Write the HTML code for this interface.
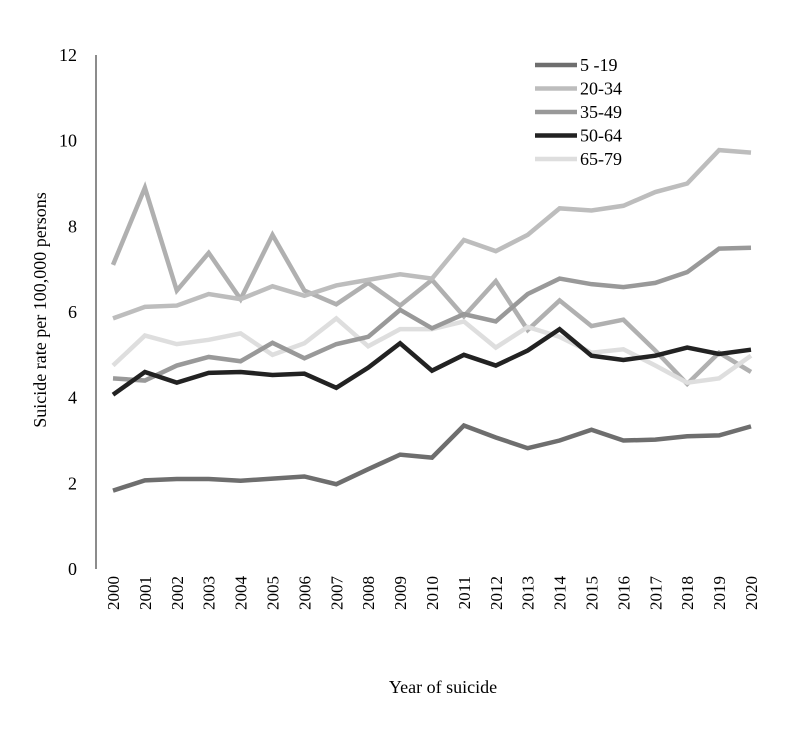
<!DOCTYPE html>
<html><head><meta charset="utf-8"><style>
body{margin:0;background:#fff}
svg text{font-family:"Liberation Serif",serif;fill:#000}
</style></head><body>
<svg id="chart" width="800" height="728" xmlns="http://www.w3.org/2000/svg">
<line x1="96" y1="55" x2="96" y2="569" stroke="#666" stroke-width="1.5"/>
<g id="yticks"></g><g id="xticks"></g><g id="lines"></g>
<text transform="translate(46,310) rotate(-90)" text-anchor="middle" font-size="18">Suicide rate per 100,000 persons</text>
<text x="443" y="693" text-anchor="middle" font-size="18">Year of suicide</text>
<g id="legend"></g>
</svg>
<script>
const years=[2000,2001,2002,2003,2004,2005,2006,2007,2008,2009,2010,2011,2012,2013,2014,2015,2016,2017,2018,2019,2020];
const yTicks=[0,2,4,6,8,10,12];
const s5_19=[1.83,2.07,2.1,2.1,2.06,2.11,2.16,1.98,2.33,2.67,2.6,3.35,3.07,2.82,3.0,3.25,3.0,3.02,3.1,3.12,3.33];
const s20_34=[5.85,6.12,6.15,6.42,6.3,6.6,6.38,6.62,6.75,6.88,6.78,7.68,7.42,7.8,8.42,8.37,8.48,8.8,9.0,9.78,9.72];
const s35_49=[4.45,4.4,4.75,4.95,4.85,5.28,4.92,5.25,5.42,6.05,5.62,5.95,5.78,6.42,6.78,6.65,6.58,6.68,6.93,7.48,7.5];
const s50_64=[4.07,4.6,4.35,4.58,4.6,4.53,4.56,4.23,4.7,5.27,4.63,5.0,4.75,5.1,5.6,4.98,4.88,4.98,5.17,5.02,5.12];
const s65_79=[4.75,5.45,5.25,5.35,5.5,5.0,5.27,5.85,5.2,5.6,5.6,5.78,5.17,5.65,5.42,5.05,5.13,4.75,4.35,4.45,4.98];
const sExtra=[7.1,8.9,6.5,7.38,6.3,7.8,6.5,6.18,6.68,6.15,6.75,5.9,6.72,5.58,6.27,5.67,5.82,5.1,4.32,5.05,4.6];
const NS="http://www.w3.org/2000/svg";
const xs=i=>113+i*(751-113)/(years.length-1);
const ys=v=>569-v*(569-55)/12;
function mk(t,a,p){const e=document.createElementNS(NS,t);for(const k in a)e.setAttribute(k,a[k]);p.appendChild(e);return e;}
const yt=document.getElementById('yticks');
yTicks.forEach(v=>{const t=mk('text',{x:77,y:ys(v)+6,'text-anchor':'end','font-size':18},yt);t.textContent=v;

});
const xt=document.getElementById('xticks');
years.forEach((y,i)=>{const t=mk('text',{transform:`translate(${xs(i)+6},576) rotate(-90)`,'text-anchor':'end','font-size':17},xt);t.textContent=y;

});
const series=[
 {name:'series-extra',data:sExtra,color:'#b0b0b0'},
 {name:'series-65-79',data:s65_79,color:'#dedede',label:'65-79'},
 {name:'series-20-34',data:s20_34,color:'#bdbdbd',label:'20-34'},
 {name:'series-35-49',data:s35_49,color:'#999',label:'35-49'},
 {name:'series-50-64',data:s50_64,color:'#222',label:'50-64'},
 {name:'series-5-19',data:s5_19,color:'#6e6e6e',label:'5 -19'}];
const lg=document.getElementById('lines');
series.forEach(s=>{const p=mk('polyline',{points:s.data.map((v,i)=>xs(i)+','+ys(v)).join(' '),fill:'none',stroke:s.color,'stroke-width':4.5,'stroke-linejoin':'miter'},lg);

});
const legendOrder=['series-5-19','series-20-34','series-35-49','series-50-64','series-65-79'];
const leg=document.getElementById('legend');
legendOrder.forEach((n,k)=>{const s=series.find(q=>q.name===n);const y=65+k*23.5;
const g=mk('g',{},leg);


mk('line',{x1:535,y1:y,x2:577,y2:y,stroke:s.color,'stroke-width':4.5},g);
const t=mk('text',{x:580,y:y+6,'font-size':18},g);t.textContent=s.label;});
</script>
</body></html>
